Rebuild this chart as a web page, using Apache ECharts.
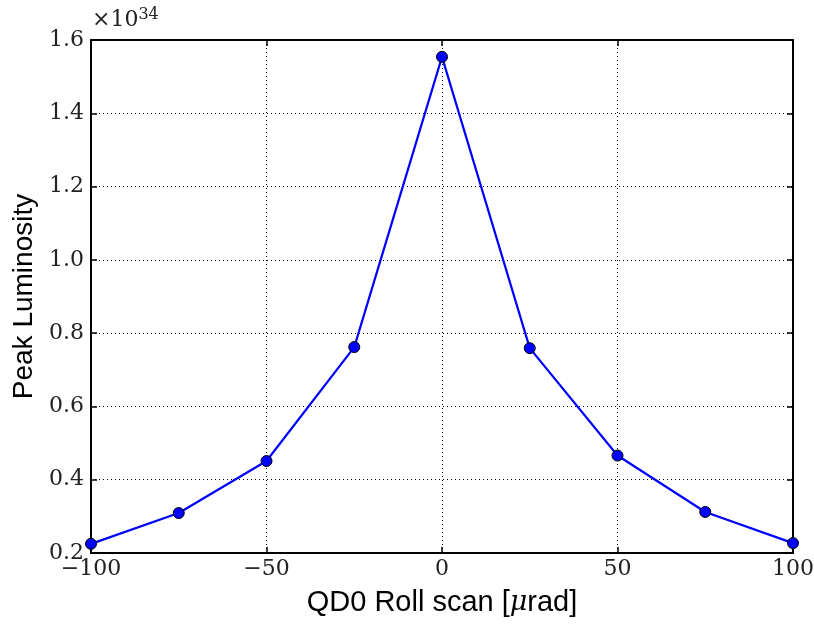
<!DOCTYPE html>
<html><head><meta charset="utf-8">
<script src="https://cdn.jsdelivr.net/npm/echarts@6/dist/echarts.min.js"></script>
<style>html,body{margin:0;padding:0;background:#fff}#c{width:814px;height:624px}</style>
</head><body><div id="c"></div>
<script>
const rollScan = [-100, -75, -50, -25, 0, 25, 50, 75, 100];
const peakLumi = [0.225, 0.309, 0.451, 0.762, 1.554, 0.759, 0.466, 0.312, 0.227];
const xTicks = [-100, -50, 0, 50, 100];
const yTicks = [0.2, 0.4, 0.6, 0.8, 1.0, 1.2, 1.4, 1.6];

const chart = echarts.init(document.getElementById('c'), null, {renderer: 'canvas'});
const fmtX = v => (v < 0 ? '\u2212' + Math.abs(v) : String(v));
const tickFont = {fontFamily: 'DejaVu Serif', fontSize: 22, color: '#222'};
const gridL = 91, gridR = 21, gridT = 40, gridB = 71;
chart.setOption({
  animation: false,
  grid: {left: gridL, right: gridR, top: gridT, bottom: gridB, containLabel: false, outerBoundsMode: 'none'},
  xAxis: [{
    type: 'value', min: -100, max: 100, interval: 50,
    axisLine: {show: true, onZero: false, lineStyle: {color: '#000', width: 2}},
    axisTick: {show: true, inside: true, length: 6, lineStyle: {color: '#000', width: 1.5}},
    axisLabel: Object.assign({formatter: fmtX, margin: 5}, tickFont),
    splitLine: {show: true, lineStyle: {color: '#000', type: [1, 3], width: 1}},
    name: 'QD0 Roll scan [{i|\u03bc}rad]', nameLocation: 'middle', nameGap: 35,
    nameTextStyle: {fontFamily: 'Liberation Sans', fontSize: 29, color: '#000',
      rich: {i: {fontFamily: 'DejaVu Serif', fontStyle: 'italic', fontSize: 27, color: '#000'}}}
  }, {
    type: 'value', position: 'top', min: -100, max: 100, interval: 50,
    axisLine: {show: true, onZero: false, lineStyle: {color: '#000', width: 2}},
    axisTick: {show: true, inside: true, length: 6, lineStyle: {color: '#000', width: 1.5}},
    axisLabel: {show: false}, splitLine: {show: false}
  }],
  yAxis: [{
    type: 'value', min: 0.2, max: 1.6, interval: 0.2,
    axisLine: {show: true, onZero: false, lineStyle: {color: '#000', width: 2}},
    axisTick: {show: true, inside: true, length: 6, lineStyle: {color: '#000', width: 1.5}},
    axisLabel: Object.assign({formatter: v => v.toFixed(1), margin: 7}, tickFont),
    splitLine: {show: true, lineStyle: {color: '#000', type: [1, 3], width: 1}},
    name: 'Peak Luminosity', nameLocation: 'middle', nameGap: 50,
    nameTextStyle: {fontFamily: 'Liberation Sans', fontSize: 28, color: '#000'}
  }, {
    type: 'value', position: 'right', min: 0.2, max: 1.6, interval: 0.2,
    axisLine: {show: true, onZero: false, lineStyle: {color: '#000', width: 2}},
    axisTick: {show: true, inside: true, length: 6, lineStyle: {color: '#000', width: 1.5}},
    axisLabel: {show: false}, splitLine: {show: false}
  }],
  graphic: [{
    type: 'text', left: 92, top: 7,
    style: {text: '\u00d710{s|34}', fontFamily: 'DejaVu Serif', fontSize: 22, fill: '#222',
      rich: {s: {fontFamily: 'DejaVu Serif', fontSize: 16, verticalAlign: 'top', padding: [0, 0, 10, 0]}}}
  }],
  series: [{
    type: 'line', xAxisIndex: 0, yAxisIndex: 0,
    data: rollScan.map((x, i) => [x, peakLumi[i]]),
    symbol: 'circle', symbolSize: 11,
    lineStyle: {color: '#0000ff', width: 2.2},
    itemStyle: {color: '#0000ff', borderColor: '#000', borderWidth: 1},
    clip: false, z: 5
  }]
});
</script></body></html>
